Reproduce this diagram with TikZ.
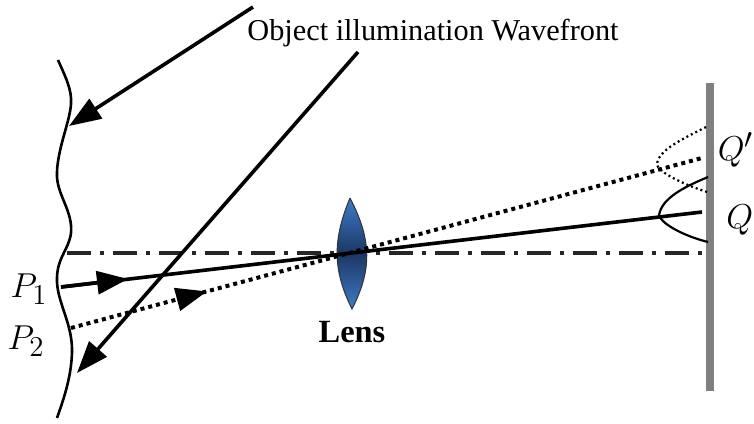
\documentclass[tikz,border=0pt]{standalone}
\usepackage{amsmath}
\usepackage{xcolor}
\usepackage{fontspec}
\setmainfont{Liberation Serif}
\usetikzlibrary{arrows.meta, positioning}
\definecolor{lenslight}{RGB}{60, 124, 200}
\definecolor{lensdark}{RGB}{28, 54, 100}
\definecolor{screengray}{RGB}{128, 128, 128}

\begin{document}
\begin{tikzpicture}[x=0.5pt, y=-0.5pt]
    % Styles
    \tikzstyle{front} = [line width=1.3pt, black]
    \tikzstyle{beam} = [line width=1.8pt, black, -{Stealth[length=16pt, width=11.5pt, inset=0pt]}]
    \tikzstyle{raysolid} = [line width=1.8pt, black]
    \tikzstyle{raydot} = [line width=2pt, black, line cap=butt, dash pattern=on 2pt off 2pt]
    \tikzstyle{raytip} = [-{Stealth[length=15.5pt, width=11.5pt, inset=0pt]}]
    \tikzstyle{axis} = [line width=1.6pt, black!85, dash pattern=on 12pt off 4.5pt on 2pt off 4.5pt]
    \tikzstyle{lobe} = [line width=1.1pt, black]
    \tikzstyle{label} = [inner sep=0pt, font=\fontsize{19}{19}\selectfont]
    \useasboundingbox (0,0) rectangle (754,423);

    % Points
    \coordinate (hitone) at (69,126);
    \coordinate (hittwo) at (77,373);
    \coordinate (startone) at (253,7);
    \coordinate (starttwo) at (358,52);
    \coordinate (pone) at (61,287);
    \coordinate (ptwo) at (71,328);
    \coordinate (tipone) at (128,279);
    \coordinate (basetwo) at (185,297.3);
    \coordinate (tiptwo) at (207,291.4);
    \coordinate (qpoint) at (702,212);
    \coordinate (qdash) at (702,158);
    \coordinate (axisleft) at (67,253);
    \coordinate (axisright) at (707,253);
    \coordinate (screentop) at (710,83);
    \coordinate (screenbottom) at (710,391);
    \coordinate (lenstop) at (350,198);
    \coordinate (lensbottom) at (352,309);

    % Screen and axis
    \draw [line width=4pt, screengray] (screentop) -- (screenbottom);
    \draw [axis] (axisleft) -- (axisright);

    % Lens
    \path [draw=black!80, line width=0.5pt, top color=lenslight, bottom color=lenslight, middle color=lensdark]
        (lenstop) .. controls (332.5,240) and (332.5,270) .. (lensbottom)
        .. controls (372,270) and (372,240) .. (lenstop);

    % Wavefront
    \draw [front] (58,60) .. controls (66,78) and (72,90) .. (71,104)
        .. controls (70,122) and (56,152) .. (57,177)
        .. controls (58,196) and (73,212) .. (71,233)
        .. controls (69,250) and (56,258) .. (57,282)
        .. controls (58,304) and (73,325) .. (72,353)
        .. controls (71,378) and (64,398) .. (57,418);

    % Arrows
    \draw [beam] (startone) -- (hitone);
    \draw [beam] (starttwo) -- (hittwo);
    \draw [raysolid] (pone) -- (qpoint);
    \draw [raysolid, raytip] (pone) -- (tipone);
    \draw [raydot] (ptwo) -- (qdash);
    \draw [raysolid, raytip] (basetwo) -- (tiptwo);

    % Lobes at the screen
    \draw [lobe] (708,177) .. controls (684,187) and (662,198) .. (659,215)
        .. controls (660,222) and (680,235) .. (708,242);
    \draw [lobe, dash pattern=on 1pt off 1.5pt] (706,127) .. controls (685,138) and (657,150) .. (657,165)
        .. controls (659,172) and (682,184) .. (707,192);

    % Labels
    \node [inner sep=0pt, font=\fontsize{15.15}{15.15}\selectfont, anchor=west] (wave) at (247,33) {Object illumination Wavefront};
    \node [inner sep=0pt, font=\fontsize{16.2}{16.2}\selectfont\bfseries, below=6pt of lensbottom] (lens) {Lens};
    \node [label] (ponelabel) at (29,289) {$P_1$};
    \node [label] (ptwolabel) at (26,341) {$P_2$};
    \node [label, anchor=east] (qdashlabel) at (754,150) {$Q'$};
    \node [label, anchor=west] (qlabel) at (726,220) {$Q$};
\end{tikzpicture}
\end{document}
